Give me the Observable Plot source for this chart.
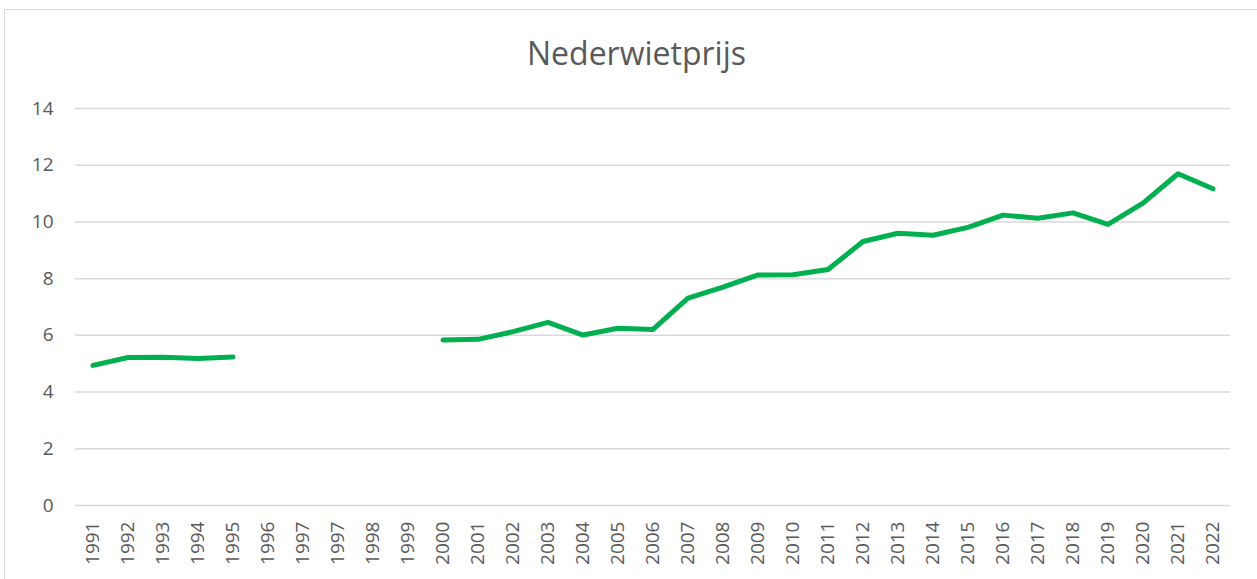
<!DOCTYPE html>
<html>
<head>
<meta charset="utf-8">
<script src="https://cdn.jsdelivr.net/npm/d3@7"></script>
<script src="https://cdn.jsdelivr.net/npm/@observablehq/plot@0.6"></script>
<style>
  html, body { margin: 0; padding: 0; background: #fff; }
  #frame { position: absolute; left: 4px; top: 9px; width: 1260px; height: 580px; border: 1px solid #d9d9d9; box-sizing: border-box; }
  #title { position: absolute; left: 0; top: 31px; width: 1273px; text-align: center; font-family: "Open Sans", sans-serif; font-size: 32px; color: #595959; }
  #chart { position: absolute; left: 0; top: 80px; }
</style>
</head>
<body>
<div id="frame"></div>
<div id="title">Nederwietprijs</div>
<div id="chart"></div>
<script>
// Category labels (note the duplicated 1997 in the source chart)
const yearLabels = ["1991","1992","1993","1994","1995","1996","1997","1997","1998","1999",
  "2000","2001","2002","2003","2004","2005","2006","2007","2008","2009","2010","2011",
  "2012","2013","2014","2015","2016","2017","2018","2019","2020","2021","2022"];
// Price values (null = no data)
const prices = [4.94, 5.22, 5.23, 5.18, 5.24, null, null, null, null, null,
  5.84, 5.86, 6.13, 6.46, 6.01, 6.25, 6.21, 7.31, 7.70, 8.13, 8.14, 8.32,
  9.31, 9.60, 9.53, 9.81, 10.24, 10.13, 10.32, 9.91, 10.66, 11.70, 11.17];
const yTicks = [0, 2, 4, 6, 8, 10, 12, 14];

const data = yearLabels.map((label, i) => ({i, label, value: prices[i] == null ? NaN : prices[i]}));

const chart = Plot.plot({
  width: 1257,
  height: 499,
  marginTop: 28,
  marginBottom: 74,
  marginLeft: 75,
  marginRight: 27,
  style: {fontFamily: "'Open Sans', sans-serif", fontSize: "19px", color: "#595959", background: "transparent"},
  x: {type: "band", domain: d3.range(yearLabels.length), padding: 0, label: null},
  y: {domain: [0, 14], label: null},
  marks: [
    Plot.gridY(yTicks, {stroke: "#d9d9d9", strokeOpacity: 1, strokeWidth: 1.5}),
    Plot.axisY(yTicks, {tickSize: 0, tickPadding: 22, fill: "#595959", fontSize: 19}),
    Plot.axisX(d3.range(yearLabels.length), {tickSize: 0, tickPadding: 16, tickRotate: -90, tickFormat: i => yearLabels[i], fill: "#595959", fontSize: 19}),
    Plot.line(data, {x: "i", y: "value", stroke: "#00b050", strokeWidth: 5, strokeLinecap: "round", strokeLinejoin: "round"})
  ]
});
document.getElementById("chart").appendChild(chart);
</script>
</body>
</html>
